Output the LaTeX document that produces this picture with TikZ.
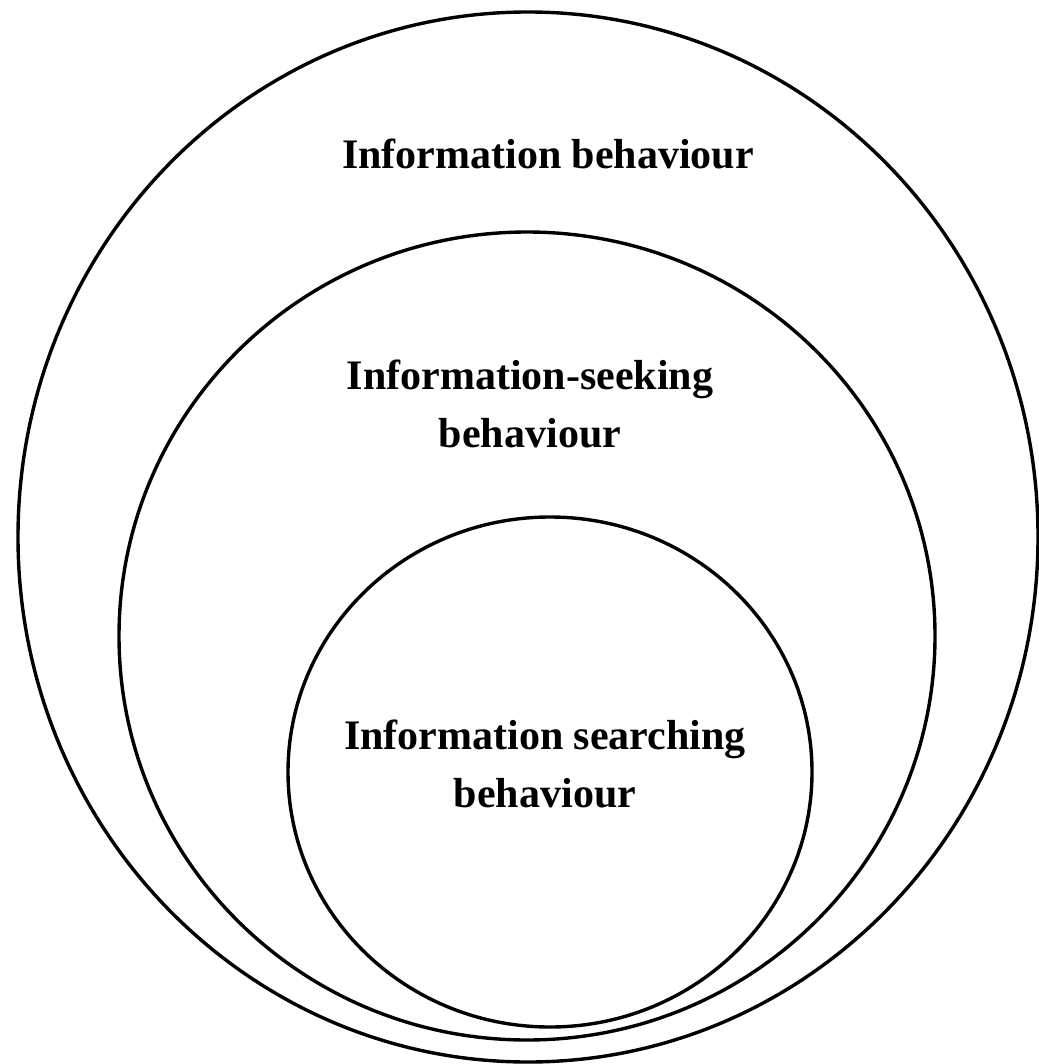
\documentclass[tikz,border=0pt]{standalone}
\usepackage{fontspec}
\setmainfont{Liberation Serif}
\begin{document}
\begin{tikzpicture}[x=1pt,y=-1pt,
  ring/.style={line width=3.4pt,black},
  lbl/.style={font=\fontsize{42}{58}\selectfont\bfseries,align=center,anchor=base,inner sep=0pt}]
\useasboundingbox (0,0) rectangle (1038,1064);
\draw[ring] (528,537) ellipse [x radius=510,y radius=525];
\draw[ring] (527,636) ellipse [x radius=408,y radius=404];
\draw[ring] (550,772) ellipse [x radius=262,y radius=255];
\node[lbl] (ib) at (548,169) {Information behaviour};
\node[lbl] (isb) at (530,447) {Information-seeking\\behaviour};
\node[lbl] (isrch) at (545,807) {Information searching\\behaviour};
\end{tikzpicture}
\end{document}
